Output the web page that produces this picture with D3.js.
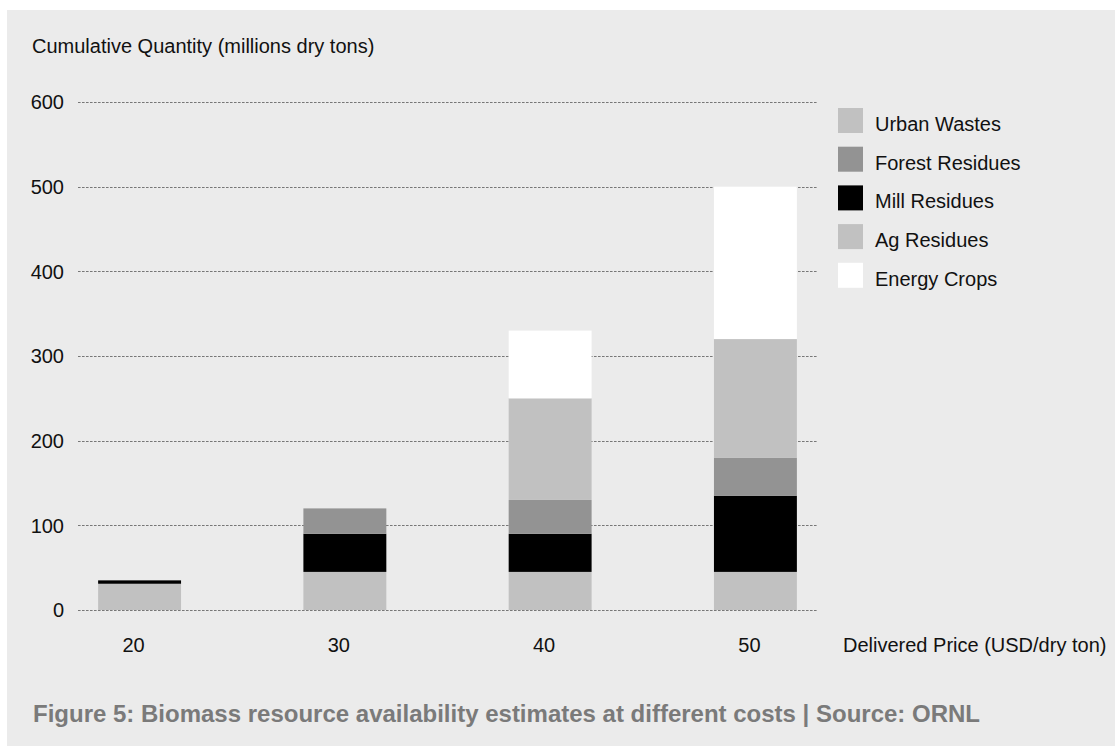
<!DOCTYPE html>
<html>
<head>
<meta charset="utf-8">
<script src="https://cdn.jsdelivr.net/npm/d3@7"></script>
<style>
  html, body { margin: 0; padding: 0; background: #ffffff; }
  svg { display: block; font-family: "Liberation Sans", Arial, Helvetica, sans-serif; }
</style>
</head>
<body>
<svg id="chart" width="1115" height="746"></svg>
<script>
// Delivered price categories (USD/dry ton)
const prices = ["20", "30", "40", "50"];

// Stack order from the bottom up
const seriesNames = ["Urban Wastes", "Mill Residues", "Forest Residues", "Ag Residues", "Energy Crops"];

// Quantities per series (millions dry tons), one value per price
const urbanWastes    = [31, 45, 45, 45];
const millResidues   = [4, 45, 45, 90];
const forestResidues = [0, 30, 40, 45];
const agResidues     = [0, 0, 120, 140];
const energyCrops    = [0, 0, 80, 180];

// Legend order, top to bottom
const legendOrder = ["Urban Wastes", "Forest Residues", "Mill Residues", "Ag Residues", "Energy Crops"];

const yTicks = [0, 100, 200, 300, 400, 500, 600];

const colors = {
  "Urban Wastes": "#c1c1c1",
  "Forest Residues": "#939393",
  "Mill Residues": "#000000",
  "Ag Residues": "#c1c1c1",
  "Energy Crops": "#ffffff"
};

const valuesBySeries = {
  "Urban Wastes": urbanWastes,
  "Mill Residues": millResidues,
  "Forest Residues": forestResidues,
  "Ag Residues": agResidues,
  "Energy Crops": energyCrops
};

const rows = prices.map((p, i) => {
  const r = { price: p };
  seriesNames.forEach(s => { r[s] = valuesBySeries[s][i]; });
  return r;
});

const svg = d3.select("#chart");

// Grey panel
svg.append("rect")
  .attr("x", 7).attr("y", 10)
  .attr("width", 1115 - 7).attr("height", 746 - 10)
  .attr("fill", "#ebebeb");

const x = d3.scaleBand()
  .domain(prices)
  .range([78, 817])
  .paddingInner(0.596)
  .paddingOuter(0.098);

const y = d3.scaleLinear()
  .domain([0, 600])
  .range([610, 102]);

// Dotted gridlines
svg.append("g")
  .selectAll("line")
  .data(yTicks)
  .join("line")
  .attr("x1", 78).attr("x2", 817)
  .attr("y1", d => Math.round(y(d)) + 0.5)
  .attr("y2", d => Math.round(y(d)) + 0.5)
  .attr("stroke", "#777777")
  .attr("stroke-width", 1)
  .attr("stroke-dasharray", "2.6,1.4");

// Y tick labels
svg.append("g")
  .selectAll("text")
  .data(yTicks)
  .join("text")
  .attr("x", 64)
  .attr("y", d => y(d))
  .attr("dy", "0.36em")
  .attr("text-anchor", "end")
  .attr("font-size", 20)
  .attr("fill", "#111")
  .text(d => d);

// Axis titles
svg.append("text")
  .attr("x", 32).attr("y", 53)
  .attr("font-size", 20)
  .attr("fill", "#111")
  .text("Cumulative Quantity (millions dry tons)");

svg.append("text")
  .attr("x", 843).attr("y", 652)
  .attr("font-size", 20)
  .attr("fill", "#111")
  .text("Delivered Price (USD/dry ton)");

// X tick labels
svg.append("g")
  .selectAll("text")
  .data(prices)
  .join("text")
  .attr("x", d => x(d) + x.bandwidth() / 2 - 6)
  .attr("y", 652)
  .attr("text-anchor", "middle")
  .attr("font-size", 20)
  .attr("fill", "#111")
  .text(d => d);

// Stacked bars
const stacked = d3.stack().keys(seriesNames)(rows);

svg.append("g")
  .selectAll("g")
  .data(stacked)
  .join("g")
  .attr("fill", d => colors[d.key])
  .selectAll("rect")
  .data(d => d)
  .join("rect")
  .attr("x", d => x(d.data.price))
  .attr("width", x.bandwidth())
  .attr("y", d => y(d[1]))
  .attr("height", d => y(d[0]) - y(d[1]));

// Legend
const legend = svg.append("g")
  .selectAll("g")
  .data(legendOrder)
  .join("g")
  .attr("transform", (d, i) => `translate(838, ${108 + i * 38.7})`);

legend.append("rect")
  .attr("width", 25).attr("height", 25)
  .attr("fill", d => colors[d]);

legend.append("text")
  .attr("x", 37).attr("y", 23)
  .attr("font-size", 20)
  .attr("fill", "#111")
  .text(d => d);

// Caption
svg.append("text")
  .attr("x", 33).attr("y", 722)
  .attr("font-size", 24)
  .attr("font-weight", "bold")
  .attr("fill", "#7a7a7a")
  .text("Figure 5: Biomass resource availability estimates at different costs | Source: ORNL");
</script>
</body>
</html>
